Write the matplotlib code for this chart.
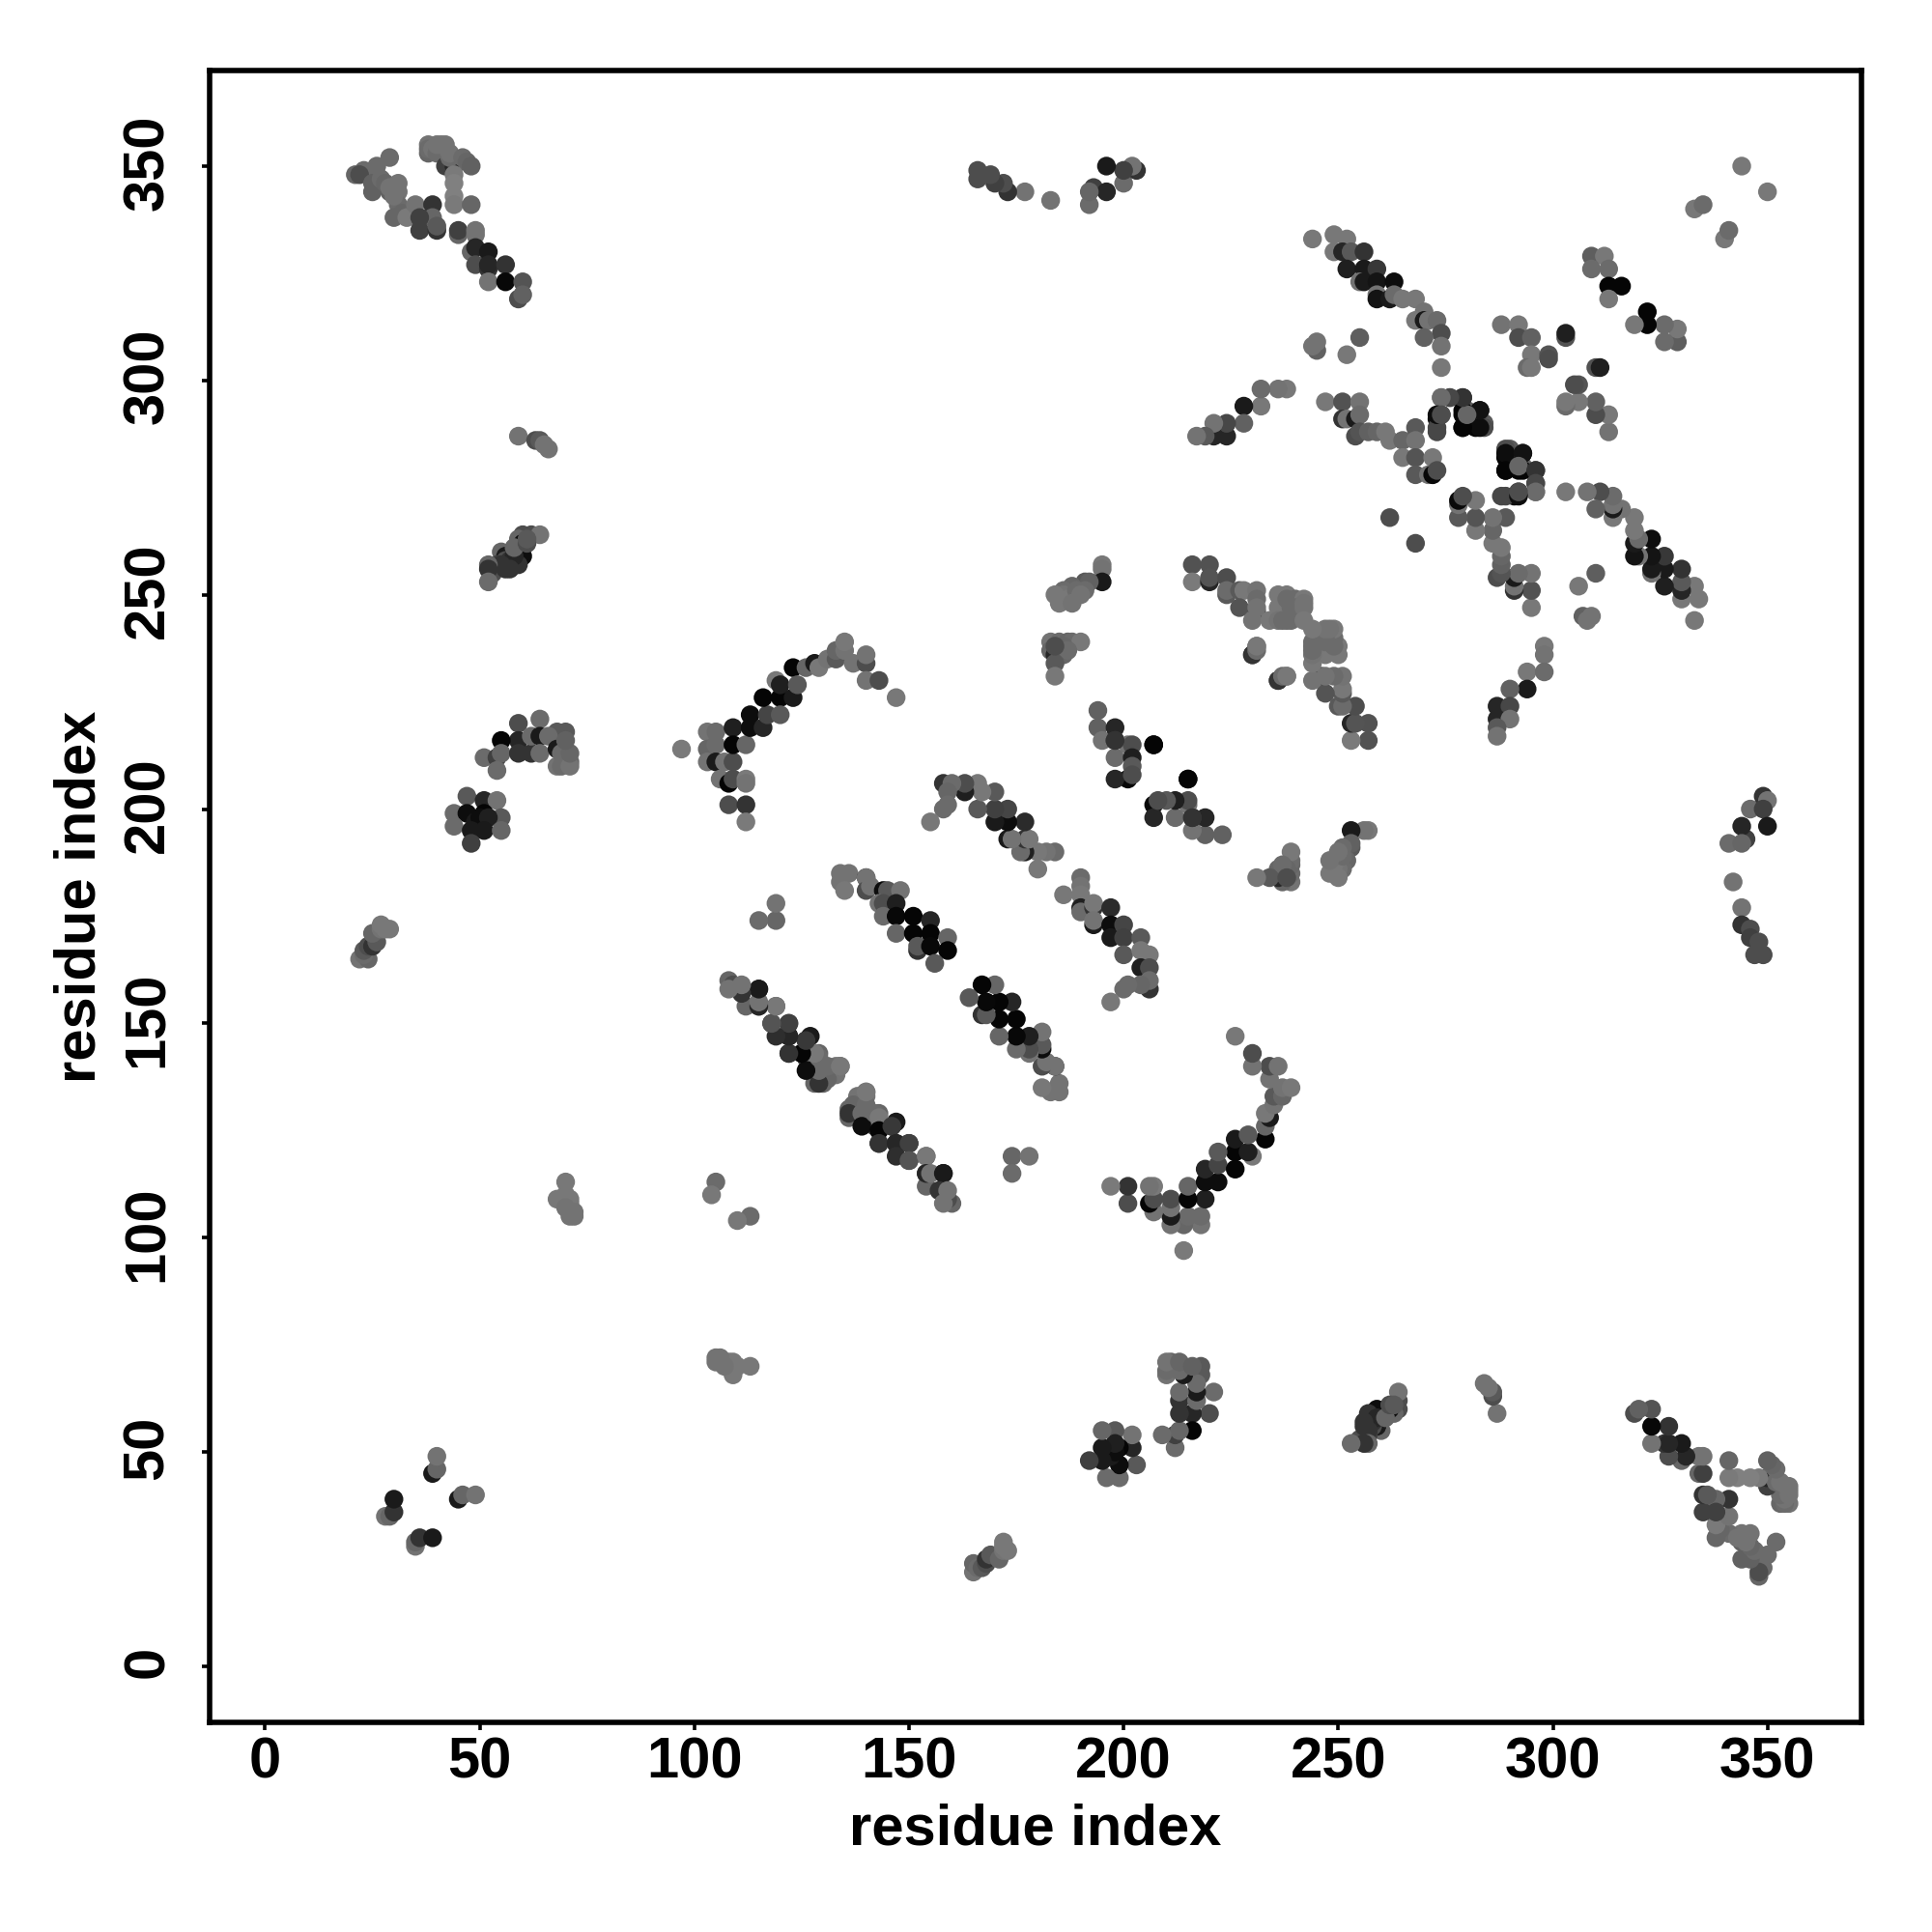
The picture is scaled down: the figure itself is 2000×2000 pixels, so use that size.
import matplotlib
matplotlib.use('Agg')
import matplotlib.pyplot as plt
from matplotlib.transforms import ScaledTranslation

# contacts are (residue a, residue b, grey level), the map is symmetric so
# each one is drawn on both sides of the diagonal
top_left = [
    (29,352,.42),(21,348,.40),(23,349,.42),(26,350,.42),(26,348,.42),(22,348,.30),(25,346,.38),(25,344,.38),
    (27,347,.42),(28,346,.40),(29,344,.38),(31,344,.45),(31,341,.42),(32,339,.40),(31,346,.45),
    (29,345,.45),(30,343,.45),(30,338,.40),(33,338,.48),(35,341,.45),(39,341,.20),(39,338,.40),(36,338,.25),
    (36,335,.25),(40,335,.20),(40,336,.35),(38,355,.45),(38,353,.40),(38,354,.42),(39,354,.45),(40,353,.42),(40,355,.45),
    (41,355,.45),(42,355,.45),(42,350,.25),(44,350,.15),(43,352,.42),(43,353,.45),(46,352,.42),(47,351,.40),(48,350,.38),
    (44,348,.48),(44,346,.50),(44,343,.50),(44,341,.48),(48,341,.40),
    (45,334,.40),(45,335,.25),(49,334,.45),(49,335,.45),(48,330,.40),(49,331,.15),(52,330,.10),(49,327,.30),
    (52,326,.20),(52,327,.15),(56,327,.20),(52,323,.45),(56,323,.03),(60,323,.33),(59,319,.30),(60,320,.38),
]
left_column = [
    (59,287,.45),(63,286,.30),(64,286,.35),(65,285,.45),(66,284,.45),(62,264,.30),(60,264,.30),(64,264,.45),
    (59,263,.40),(60,262,.05),(60,261,.40),(60,259,.05),(59,257,.20),(55,260,.40),(56,259,.10),(56,258,.30),
    (57,258,.20),(58,259,.15),(58,261,.40),(61,262,.30),(61,263,.35),(54,257,.25),(53,255,.30),(55,257,.20),(57,256,.20),
    (56,256,.20),(52,257,.40),(52,256,.20),(52,253,.42),(64,221,.42),(59,220,.30),(59,216,.15),(55,216,.02),
    (51,212,.42),(54,212,.25),(55,213,.40),(54,209,.42),(59,213,.20),(62,213,.20),(62,217,.42),(64,217,.10),
    (64,213,.42),(68,218,.35),(70,218,.35),(66,217,.42),(68,214,.10),(70,214,.40),(68,210,.45),(71,211,.40),
    (69,210,.42),(69,213,.42),(70,212,.42),(71,210,.45),(71,213,.40),(70,216,.38),
    (47,203,.35),(51,202,.15),(54,202,.45),(44,199,.42),(47,199,.05),(51,199,.02),(55,198,.35),
    (49,197,.10),(50,198,.05),(52,198,.12),
    (44,196,.42),(48,195,.10),(51,195,.10),(55,195,.40),(48,192,.25),
    (22,165,.45),(24,165,.40),(23,166,.42),(23,167,.35),(24,168,.30),(25,168,.20),(26,169,.35),(25,171,.40),(27,172,.45),
    (27,173,.47),(28,172,.47),(29,172,.47),
    (70,113,.47),(70,110,.47),(68,109,.47),(71,109,.47),(71,108,.47),(70,107,.45),(71,106,.45),(72,106,.45),(71,105,.45),(72,105,.45),
]
small_groups = [
    (28,35,.45),(29,35,.40),(30,36,.20),(30,39,.10),(39,45,.10),(40,46,.40),(40,49,.45),
    (105,113,.42),(104,110,.47),
    (333,340,.47),(335,341,.42),(344,350,.47),
    (341,192,.42),(345,193,.25),(344,196,.15),(346,200,.42),(349,203,.20),(350,202,.45),(349,200,.25),(350,196,.10),
    (344,192,.40),(342,183,.45),(344,177,.45),(344,173,.20),(346,172,.30),(346,170,.25),(348,169,.30),(349,166,.30),(347,166,.30),
]
arc = [
    (97,214,.48),(103,218,.45),(105,218,.42),(103,214,.40),(105,215,.42),(103,211,.45),(105,211,.10),(106,207,.45),
    (108,206,.02),(109,207,.30),(112,207,.48),(112,206,.45),(107,211,.45),(109,211,.30),(109,219,.12),(109,215,.02),
    (112,215,.40),(113,219,.05),(113,222,.05),(116,219,.15),(117,222,.27),(116,226,.02),(120,226,.02),(120,222,.35),
    (119,230,.47),(120,229,.12),(123,226,.10),(123,233,.02),(124,229,.35),(126,233,.40),(128,234,.10),(129,233,.47),
    (131,235,.45),(133,235,.35),(133,237,.40),(135,237,.45),(135,239,.47),(137,234,.45),(140,234,.30),(140,236,.45),
    (140,230,.45),(143,230,.30),(147,226,.47),(108,201,.30),(112,201,.20),(112,197,.48),
]
lower_band = [
    (108,160,.40),(109,159,.30),(111,158,.20),(115,158,.05),(112,154,.40),(115,154,.35),(119,154,.40),(118,150,.25),
    (122,150,.10),(122,147,.15),(126,146,.10),(122,143,.20),(126,142,.30),(129,143,.40),(127,147,.10),(128,142,.42),
    (127,139,.10),(129,139,.42),(130,137,.40),(128,136,.40),(132,139,.45),(134,140,.45),(133,140,.45),(138,133,.45),
    (137,131,.40),(136,130,.40),(136,129,.20),(140,131,.42),(140,134,.47),(139,129,.42),(139,126,.05),(142,129,.42),
    (143,128,.47),(143,125,.02),(146,126,.22),(143,122,.20),(147,122,.15),(150,122,.25),(147,119,.18),(150,118,.33),
    (154,119,.47),(154,115,.15),(155,115,.45),(158,115,.10),(157,111,.20),(159,111,.45),(158,108,.45),
    (119,174,.40),(119,178,.45),(115,174,.42),
]
upper_band = [
    (134,185,.45),(136,185,.45),(134,183,.45),(135,181,.47),(140,184,.20),(140,184,.45),(140,181,.30),(141,182,.45),
    (144,181,.05),(145,181,.35),(148,181,.45),(143,178,.45),(144,178,.30),(147,178,.12),(144,175,.42),(147,175,.03),
    (151,175,.02),(155,174,.15),(147,171,.40),(151,171,.02),(155,171,.02),(159,170,.40),(152,167,.20),(152,168,.35),
    (155,168,.03),(159,167,.02),(156,164,.35),
]
right_band = [
    (190,184,.42),(190,182,.45),(186,180,.47),(190,180,.47),(190,177,.12),(190,176,.42),(193,177,.20),(193,178,.47),
    (197,177,.17),(193,173,.10),(193,174,.45),(197,173,.05),(197,170,.10),(200,173,.27),(200,170,.25),(204,170,.35),
    (200,166,.35),(204,167,.47),(206,166,.47),(204,163,.12),(206,163,.30),(206,158,.20),(206,160,.42),(204,159,.40),
    (200,158,.42),(201,159,.42),(197,155,.47),
]
upper_groups = [
    (195,257,.47),(195,256,.45),(195,253,.10),(191,253,.35),(192,253,.38),(188,252,.40),(191,251,.42),(186,251,.42),
    (185,249,.45),(186,250,.45),(187,249,.47),(189,251,.42),(190,250,.45),
    (184,250,.47),(185,248,.47),(188,248,.45),(183,239,.45),(185,239,.42),(187,239,.40),(188,239,.42),(190,239,.47),
    (183,237,.40),(184,236,.15),(186,236,.40),(185,237,.35),(186,238,.40),(187,237,.42),(184,234,.35),(184,231,.47),(184,238,.30),
    (194,223,.38),(194,219,.38),(195,216,.45),(198,219,.15),(198,216,.22),(201,215,.45),(202,215,.30),(198,212,.42),
    (202,212,.12),(202,210,.35),(201,207,.03),(198,207,.15),(202,208,.30),(207,215,.02),(215,207,.02),(198,216,.20),
]
diagonal_band = [
    (216,257,.32),(220,257,.32),(216,253,.48),(220,253,.15),(220,254,.33),(224,254,.30),(224,250,.35),(224,251,.42),
    (227,251,.35),(228,251,.47),(227,247,.33),(231,251,.45),(231,249,.42),(231,246,.30),(231,247,.45),(230,244,.45),
    (234,244,.47),(236,250,.47),(238,250,.47),(236,247,.47),(238,249,.42),(240,249,.42),(242,249,.47),(236,244,.45),
    (238,244,.42),(240,247,.42),(230,236,.25),(231,238,.45),(239,244,.42),(239,247,.42),(237,244,.42),(242,247,.45),
    (242,248,.45),(242,244,.47),(236,230,.20),(237,231,.42),(238,231,.47),
]
top_right = [
    (244,333,.47),(249,334,.47),(252,333,.47),(249,330,.47),(251,330,.15),(253,330,.35),(256,330,.20),(252,326,.12),
    (256,326,.10),(259,326,.22),(255,323,.45),(256,323,.10),(259,323,.08),(263,323,.05),(259,320,.45),(259,319,.08),
    (262,319,.10),(263,320,.42),(265,319,.47),(268,319,.47),(270,316,.45),(268,314,.47),(270,314,.10),(271,314,.45),
    (273,314,.42),(274,311,.30),(270,310,.38),(274,308,.45),(274,303,.47),(245,307,.38),(244,308,.45),(245,309,.45),
    (255,310,.37),(252,306,.47),(288,313,.45),(292,313,.47),(292,310,.30),(295,310,.38),(295,306,.47),(299,306,.33),
    (299,305,.30),(294,303,.42),(295,303,.47),(303,310,.32),(303,311,.12),
    (309,329,.37),(312,329,.47),(309,326,.42),(313,326,.42),(313,322,.02),(316,322,.02),(313,319,.47),
]
middle_band = [
    (247,295,.47),(251,295,.32),(255,295,.45),(251,291,.20),(252,291,.45),(254,291,.10),(255,292,.42),(254,287,.30),
    (255,288,.33),(257,288,.38),(259,288,.40),(261,288,.47),(262,286,.47),(265,286,.40),(268,289,.35),(268,286,.45),
    (265,282,.47),(268,282,.33),(272,282,.47),(268,278,.35),(271,278,.45),(272,278,.03),(273,279,.30),(262,268,.30),
    (274,296,.47),(276,296,.35),(279,296,.22),(273,291,.05),(274,292,.28),(273,289,.28),(279,292,.02),(280,293,.38),
    (283,293,.05),(279,289,.02),(282,289,.02),(284,290,.35),(289,284,.30),(289,283,.05),(293,283,.07),(289,279,.02),
    (293,279,.02),(292,280,.40),(296,279,.20),(296,276,.28),(296,274,.42),(288,273,.28),(292,273,.05),(292,274,.30),
    (298,238,.47),(298,236,.45),(294,232,.47),(298,232,.42),(294,228,.10),(290,228,.38),(287,224,.15),(290,224,.28),
    (287,221,.15),(290,221,.45),(287,219,.35),(287,217,.45),
]

clusters = [top_left, left_column, small_groups, arc, lower_band, upper_band, right_band,
            upper_groups, diagonal_band, top_right, middle_band]

ticks = [0, 50, 100, 150, 200, 250, 300, 350]

res_x = []
res_y = []
greys = []
for cluster in clusters:
    for a, b, g in cluster:
        res_x += [a, b]
        res_y += [b, a]
        greys += [str(g), str(g)]

plt.rcParams['font.family'] = ['Liberation Sans', 'DejaVu Sans']
plt.rcParams['font.weight'] = 'bold'

fig = plt.figure(figsize=(20, 20), dpi=100)
ax = fig.add_axes([217/2000, 1 - 1783/2000, 1710/2000, 1710/2000])
ax.scatter(res_x, res_y, c=greys, s=195, linewidths=0, zorder=3)

ax.set_xlim(-12.94, 371.9)
ax.set_ylim(-13.07, 372.3)
ax.set_xticks(ticks)
ax.set_yticks(ticks)
ax.tick_params(axis='x', length=6, width=2.6, labelsize=43, pad=4.5)
ax.tick_params(axis='y', length=6, width=2.6, labelsize=43, pad=20)
up = ScaledTranslation(0, 3/72, fig.dpi_scale_trans)
for lab in ax.get_yticklabels():
    lab.set_rotation(90)
    lab.set_va('center')
    lab.set_transform(lab.get_transform() + up)
for s in ax.spines.values():
    s.set_linewidth(4)

ax.set_xlabel('residue index', fontsize=43, fontweight='bold', labelpad=10)
ax.set_ylabel('residue index', fontsize=43, fontweight='bold', labelpad=11)

plt.savefig('out.png', dpi=100)
